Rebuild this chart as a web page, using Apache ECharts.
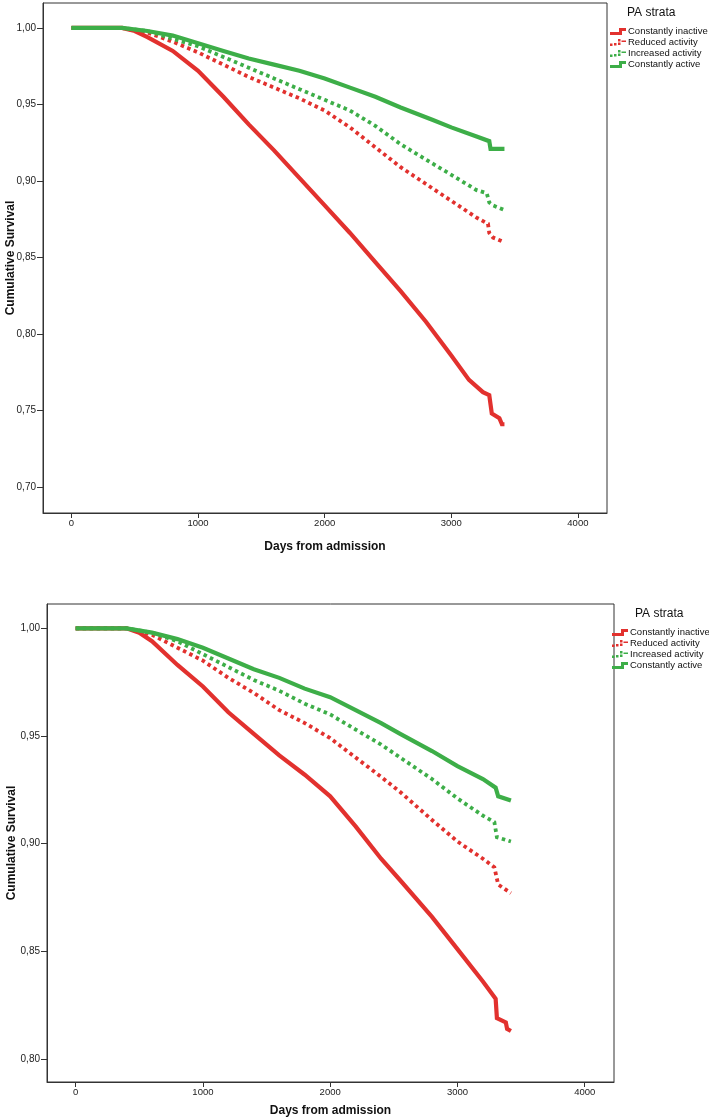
<!DOCTYPE html>
<html><head><meta charset="utf-8">
<script src="https://cdn.jsdelivr.net/npm/echarts@6/dist/echarts.min.js"></script>
<style>html,body{margin:0;padding:0;background:#fff}#c{width:709px;height:1120px}</style>
</head><body><div id="c"></div>
<script>
// ---------- data ----------
const seriesNames = ['Constantly inactive', 'Reduced activity', 'Increased activity', 'Constantly active'];
const xTicks = [0, 1000, 2000, 3000, 4000];
const yTicks1 = [0.70, 0.75, 0.80, 0.85, 0.90, 0.95, 1.00];
const yTicks2 = [0.80, 0.85, 0.90, 0.95, 1.00];
const legendTitle = 'PA strata';
const xTitle = 'Days from admission';
const yTitle = 'Cumulative Survival';

// Panel 1: [day, cumulative survival]
const p1Inactive = [[0,1],[400,1],[500,0.998],[600,0.994],[800,0.985],[1000,0.972],[1200,0.955],[1400,0.937],[1600,0.920],[1800,0.902],[2000,0.884],[2200,0.866],[2400,0.847],[2600,0.828],[2800,0.808],[3000,0.786],[3140,0.770],[3250,0.762],[3300,0.760],[3320,0.748],[3380,0.745],[3400,0.741],[3420,0.741]];
const p1Reduced = [[0,1],[400,1],[600,0.997],[800,0.991],[1000,0.984],[1200,0.976],[1400,0.968],[1600,0.961],[1800,0.954],[2000,0.946],[2200,0.935],[2400,0.922],[2600,0.909],[2800,0.898],[3000,0.887],[3200,0.876],[3290,0.872],[3300,0.866],[3330,0.863],[3420,0.860]];
const p1Increased = [[0,1],[400,1],[600,0.998],[800,0.993],[1000,0.988],[1200,0.981],[1400,0.974],[1600,0.967],[1800,0.960],[2000,0.953],[2200,0.946],[2400,0.936],[2600,0.924],[2800,0.914],[3000,0.904],[3200,0.894],[3280,0.892],[3300,0.886],[3330,0.884],[3420,0.881]];
const p1Active = [[0,1],[400,1],[600,0.998],[800,0.995],[1000,0.990],[1200,0.985],[1400,0.980],[1600,0.976],[1800,0.972],[2000,0.967],[2200,0.961],[2400,0.955],[2600,0.948],[2850,0.940],[3000,0.935],[3200,0.929],[3300,0.926],[3310,0.921],[3420,0.921]];

// Panel 2
const p2Inactive = [[0,1],[400,1],[500,0.998],[600,0.994],[800,0.983],[1000,0.973],[1200,0.961],[1400,0.951],[1600,0.941],[1800,0.932],[2000,0.922],[2200,0.908],[2400,0.893],[2550,0.883],[2800,0.866],[3000,0.851],[3200,0.836],[3300,0.828],[3310,0.819],[3380,0.817],[3390,0.814],[3420,0.813]];
const p2Reduced = [[0,1],[400,1],[600,0.997],[800,0.991],[1000,0.985],[1200,0.977],[1400,0.970],[1600,0.962],[1800,0.956],[2000,0.949],[2200,0.940],[2400,0.931],[2550,0.924],[2800,0.911],[3000,0.901],[3200,0.893],[3290,0.889],[3320,0.881],[3420,0.877]];
const p2Increased = [[0,1],[400,1],[600,0.998],[800,0.994],[1000,0.988],[1200,0.982],[1400,0.976],[1600,0.971],[1800,0.965],[2000,0.960],[2200,0.953],[2400,0.946],[2550,0.940],[2800,0.930],[3000,0.921],[3200,0.913],[3290,0.910],[3310,0.903],[3420,0.901]];
const p2Active = [[0,1],[400,1],[600,0.998],[800,0.995],[1000,0.991],[1200,0.986],[1400,0.981],[1600,0.977],[1800,0.972],[2000,0.968],[2200,0.962],[2400,0.956],[2550,0.951],[2800,0.943],[3000,0.936],[3200,0.930],[3300,0.926],[3320,0.922],[3420,0.920]];

// ---------- styling ----------
const RED = '#E2312E', GREEN = '#3DAE48';
const colors = [RED, RED, GREEN, GREEN];
const solid = [true, false, false, true];
const FONT = 'Liberation Sans, Arial, sans-serif';
const ICON_SOLID = 'path://M0,5H9V1H16V4H12V8H0Z';
const ICON_DOT = 'path://M0,5.5h2.5v2.5h-2.5z M4,5h2.5v2.5h-2.5z M8,4.5h2.5v2.5h-2.5z M8,1h2.5v2.5h-2.5z M11.5,2.5h4.5v1.6h-4.5z';

const panels = [
  { data: [p1Inactive, p1Reduced, p1Increased, p1Active], yTicks: yTicks1,
    grid: { left: 43, top: 3, width: 564, height: 510 }, yMin: 0.683, yMax: 1.0163, yGap: 26, xGap: 28,
    legend: { left: 610, top: 26 }, title: [652, 14] },
  { data: [p2Inactive, p2Reduced, p2Increased, p2Active], yTicks: yTicks2,
    grid: { left: 47, top: 604, width: 567, height: 478 }, yMin: 0.7893, yMax: 1.0113, yGap: 29, xGap: 23,
    legend: { left: 612, top: 627 }, title: [660, 615] }
];

const fmt = v => v.toFixed(2).replace('.', ',');
const legendData = seriesNames.map((n, i) => ({ name: n, icon: solid[i] ? ICON_SOLID : ICON_DOT, itemStyle: { color: colors[i] } }));

const option = {
  animation: false,
  backgroundColor: '#fff',
  textStyle: { fontFamily: FONT },
  grid: panels.map(p => Object.assign({ show: true, borderColor: '#333', borderWidth: 1, backgroundColor: 'transparent', containLabel: false, outerBoundsMode: 'none' }, p.grid)),
  xAxis: panels.map((p, gi) => ({
    gridIndex: gi, type: 'value', min: -225, max: 4230,
    axisLine: { show: true, onZero: false, lineStyle: { color: '#333', width: 1 } },
    axisTick: { show: true, length: 5, customValues: xTicks, lineStyle: { color: '#333' } },
    axisLabel: { customValues: xTicks, formatter: v => String(Math.round(v)), fontSize: 9.5, color: '#222', margin: 5, fontFamily: FONT },
    splitLine: { show: false },
    name: xTitle, nameLocation: 'middle', nameGap: p.xGap, nameMoveOverlap: false,
    nameTextStyle: { fontSize: 12, fontWeight: 'bold', color: '#111', fontFamily: FONT }
  })),
  yAxis: panels.map((p, gi) => ({
    gridIndex: gi, type: 'value', min: p.yMin, max: p.yMax,
    axisLine: { show: true, onZero: false, lineStyle: { color: '#333', width: 1 } },
    axisTick: { show: true, length: 6, customValues: p.yTicks, lineStyle: { color: '#333' } },
    axisLabel: { customValues: p.yTicks, formatter: fmt, fontSize: 10, color: '#222', margin: 7, fontFamily: FONT },
    splitLine: { show: false },
    name: yTitle, nameLocation: 'middle', nameGap: p.yGap, nameRotate: 90, nameMoveOverlap: false,
    nameTextStyle: { fontSize: 12, fontWeight: 'bold', color: '#111', fontFamily: FONT }
  })),
  legend: panels.map(p => ({
    orient: 'vertical', left: p.legend.left, top: p.legend.top, padding: 0,
    itemWidth: 16, itemHeight: 8, itemGap: 0, selectedMode: false,
    textStyle: { fontSize: 9.5, color: '#111', lineHeight: 11, fontFamily: FONT, padding: [0, 0, 0, -3] },
    data: legendData
  })),
  graphic: panels.map(p => ({
    type: 'text', left: p.title[0] - 25, top: p.title[1] - 7,
    style: { text: legendTitle, font: '12px ' + FONT, fill: '#111' }
  })),
  series: []
};

panels.forEach((p, gi) => {
  p.data.forEach((d, i) => {
    option.series.push({
      type: 'line', name: seriesNames[i], data: d,
      xAxisIndex: gi, yAxisIndex: gi,
      symbol: 'none', showSymbol: false, silent: true,
      color: colors[i],
      lineStyle: { color: colors[i], width: solid[i] ? 4.2 : 3.8, type: solid[i] ? 'solid' : [3.5, 3.5], cap: 'butt', join: 'miter' },
      z: 2 + i
    });
  });
});

const chart = echarts.init(document.getElementById('c'), null, { renderer: 'canvas' });
chart.setOption(option);
</script>
</body></html>
